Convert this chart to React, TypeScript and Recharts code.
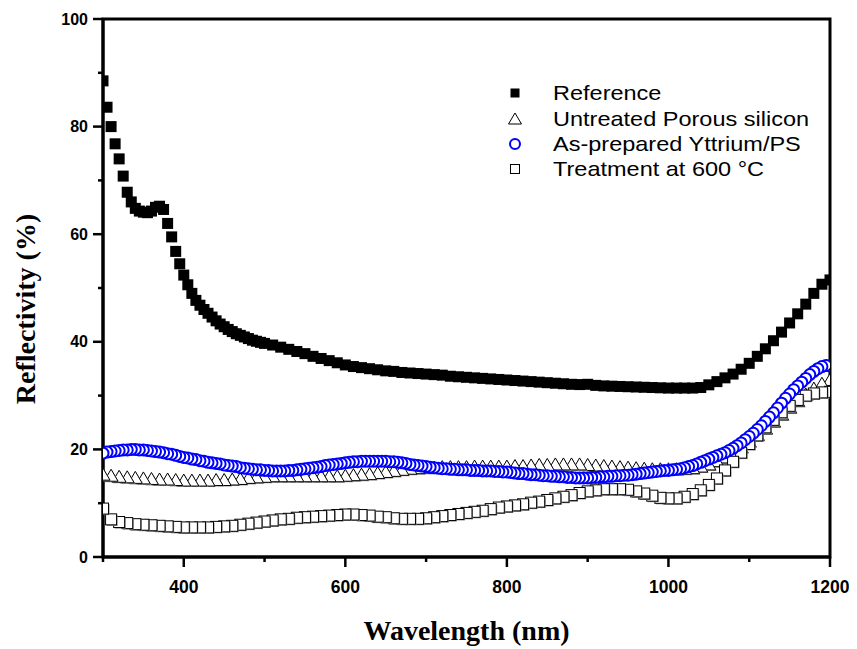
import {
  ScatterChart,
  Scatter,
  XAxis,
  YAxis,
  ReferenceArea,
  Legend,
  Label,
} from "recharts";

// wavelength grids (nm)
const range = (a: number, b: number, s: number) => {
  const out: number[] = [];
  for (let v = a; v <= b + 1e-9; v += s) out.push(v);
  return out;
};
const refWl = [...range(300, 500, 5), ...range(510, 1200, 10)];
const wl10 = range(300, 1200, 10);
const wl5 = range(300, 1200, 5);

const xTicks = [300, 400, 500, 600, 700, 800, 900, 1000, 1100, 1200];
const yTicks = [0, 10, 20, 30, 40, 50, 60, 70, 80, 90, 100];

const seriesNames = [
  "Reference",
  "Untreated Porous silicon",
  "As-prepared Yttrium/PS",
  "Treatment at 600 °C",
];

// Reflectivity (%)
const reference = [
  88.5, 83.6, 80, 76.8, 74, 70.8, 67.8, 66, 64.8, 64.3, 64.1, 64, 64.3, 65, 65.2, 64.6, 62, 59.5, 56.8, 54.5,
  52.4, 50.6, 49, 47.7, 46.8, 46, 45.3, 44.6, 43.9, 43.3, 42.8, 42.3, 41.9, 41.5, 41.2, 40.9, 40.6, 40.3, 40.1, 39.9,
  39.7,
  39.4, 39, 38.6, 38.2, 37.8, 37.3, 36.9, 36.5, 36.1, 35.7,
  35.4, 35.2, 35, 34.8, 34.6, 34.5, 34.3, 34.2, 34.1, 34,
  33.9, 33.8, 33.6, 33.5, 33.4, 33.3, 33.2, 33.1, 33, 32.9,
  32.8, 32.7, 32.6, 32.5, 32.4, 32.3, 32.2, 32.1, 32.05, 32.1,
  31.9, 31.8, 31.75, 31.7, 31.65, 31.6, 31.55, 31.5, 31.45, 31.4,
  31.4, 31.4, 31.4, 31.5, 32, 32.6, 33.3, 34, 34.9, 36,
  37.3, 38.7, 40.2, 41.8, 43.5, 45.2, 47, 49, 50.7, 51.5,
];

const untreated = [
  15.4, 15.2, 15, 14.9, 14.8, 14.7, 14.6, 14.5, 14.5, 14.4,
  14.3, 14.3, 14.3, 14.3, 14.4, 14.4, 14.5, 14.6, 14.8, 14.9,
  15, 15.1, 15.1, 15.1, 15.1, 15.1, 15.1, 15.1, 15.1, 15.1,
  15.2, 15.3, 15.4, 15.5, 15.7, 15.9, 16.1, 16.3, 16.5, 16.6,
  16.7, 16.7, 16.8, 16.8, 16.8, 16.8, 16.9, 16.9, 16.9, 16.9,
  16.9, 17, 17, 17.1, 17.2, 17.2, 17.3, 17.3, 17.3, 17.3,
  17.2, 17.1, 17, 16.9, 16.8, 16.7, 16.6, 16.5, 16.4, 16.4,
  16.4, 16.4, 16.5, 16.6, 16.9, 17.3, 17.9, 18.6, 19.5, 20.5,
  21.6, 22.8, 24, 25.3, 26.6, 27.9, 29.1, 30.3, 31.4, 32.3,
  33,
];

const yttrium = [
  19.3, 19.5, 19.6, 19.7, 19.8, 19.9, 19.9, 20, 20, 19.9,
  19.9, 19.8, 19.7, 19.6, 19.5, 19.4, 19.2, 19.1, 18.9, 18.7,
  18.5, 18.4, 18.2, 18.1, 17.9, 17.8, 17.6, 17.5, 17.4, 17.3,
  17.1, 17, 16.9, 16.8, 16.6, 16.5, 16.4, 16.3, 16.2, 16.2,
  16.1, 16.1, 16, 16, 16, 16, 16.1, 16.1, 16.2, 16.3,
  16.4, 16.5, 16.6, 16.7, 16.8, 17, 17.1, 17.2, 17.3, 17.4,
  17.5, 17.6, 17.7, 17.7, 17.8, 17.8, 17.8, 17.8, 17.8, 17.8,
  17.8, 17.7, 17.7, 17.6, 17.5, 17.4, 17.2, 17.1, 17, 16.9,
  16.8, 16.7, 16.6, 16.5, 16.4, 16.4, 16.3, 16.3, 16.2, 16.2,
  16.2, 16.1, 16.1, 16.1, 16, 16, 16, 15.9, 15.9, 15.8,
  15.8, 15.7, 15.6, 15.5, 15.5, 15.4, 15.3, 15.3, 15.2, 15.1,
  15.1, 15, 15, 14.9, 14.9, 14.8, 14.8, 14.7, 14.7, 14.7,
  14.7, 14.8, 14.8, 14.9, 14.9, 15, 15, 15.1, 15.1, 15.2,
  15.2, 15.3, 15.4, 15.5, 15.6, 15.7, 15.8, 15.9, 16, 16.1,
  16.1, 16.2, 16.3, 16.4, 16.6, 16.8, 17, 17.3, 17.6, 17.9,
  18.2, 18.5, 18.8, 19.1, 19.4, 19.8, 20.2, 20.7, 21.2, 21.8,
  22.4, 23, 23.7, 24.4, 25.2, 26, 26.8, 27.7, 28.6, 29.5,
  30.3, 31.1, 31.8, 32.5, 33.2, 33.9, 34.5, 35, 35.4, 35.6,
  35.5,
];

const treated600 = [
  9, 7, 6.5, 6.3, 6.1, 6, 5.9, 5.8, 5.7, 5.6,
  5.5, 5.5, 5.5, 5.5, 5.6, 5.7, 5.8, 6, 6.2, 6.4,
  6.6, 6.8, 7, 7.1, 7.3, 7.4, 7.5, 7.6, 7.7, 7.8,
  7.9, 7.9, 7.8, 7.7, 7.5, 7.4, 7.2, 7.1, 7.1, 7.1,
  7.2, 7.4, 7.6, 7.8, 8, 8.2, 8.4, 8.6, 8.9, 9.2,
  9.4, 9.6, 9.8, 10.1, 10.3, 10.6, 10.9, 11.2, 11.5, 11.9,
  12.2, 12.4, 12.6, 12.6, 12.6, 12.5, 12.2, 11.8, 11.4, 11,
  10.9, 10.9, 11.2, 11.7, 12.4, 13.4, 14.6, 16.1, 17.7, 19.4,
  21, 22.6, 24.1, 25.5, 26.9, 28.1, 29.2, 30, 30.4, 30.6,
  30.7,
];

// points drawn right to left, like the original plot
const toPoints = (xs: number[], ys: number[]) =>
  xs.map((x, i) => ({ x, y: ys[i] })).reverse();

const refPts = toPoints(refWl, reference);
const untreatedPts = toPoints(wl10, untreated);
const yttriumPts = toPoints(wl5, yttrium);
const treatedPts = toPoints(wl10, treated600);

const sansFont = "'Liberation Sans', Arial, sans-serif";
const serifFont = "'Liberation Serif', 'Times New Roman', serif";

const FilledSquare = (p: any) => (
  <rect x={p.cx - 5.5} y={p.cy - 5.5} width={11} height={11} fill="#000" />
);

const OpenTriangle = (p: any) => {
  const { cx, cy } = p;
  return (
    <g>
      <polygon
        points={`${cx + 1},${cy - 5} ${cx - 6},${cy + 7} ${cx + 8},${cy + 7}`}
        fill="#999"
      />
      <polygon
        points={`${cx},${cy - 6} ${cx - 7},${cy + 6} ${cx + 7},${cy + 6}`}
        fill="#fff"
        stroke="#000"
        strokeWidth={1}
      />
    </g>
  );
};

const BlueCircle = (p: any) => (
  <circle cx={p.cx} cy={p.cy} r={5.5} fill="#fff" stroke="#0000ff" strokeWidth={2} />
);

const OpenSquare = (p: any) => (
  <g>
    <rect x={p.cx - 4.5} y={p.cy - 4.5} width={11} height={11} fill="#888" />
    <rect
      x={p.cx - 5.5}
      y={p.cy - 5.5}
      width={11}
      height={11}
      fill="#fff"
      stroke="#000"
      strokeWidth={1}
    />
  </g>
);

const XTick = (props: any) => {
  const { x, y, payload } = props;
  const major = payload.value % 200 === 0;
  return (
    <g>
      <line x1={x} x2={x} y1={y} y2={y + (major ? 10 : 5)} stroke="#000" strokeWidth={2.5} />
      {major && (
        <text
          x={x}
          y={y + 30}
          textAnchor="middle"
          dominantBaseline="central"
          fontFamily={sansFont}
          fontWeight="bold"
          fontSize={17.5}
          fill="#000"
        >
          {payload.value}
        </text>
      )}
    </g>
  );
};

const YTick = (props: any) => {
  const { x, y, payload } = props;
  const major = payload.value % 20 === 0;
  return (
    <g>
      <line x1={x - (major ? 10 : 5)} x2={x} y1={y} y2={y} stroke="#000" strokeWidth={2.5} />
      {major && (
        <text
          x={x - 15}
          y={y}
          textAnchor="end"
          dominantBaseline="central"
          fontFamily={sansFont}
          fontWeight="bold"
          fontSize={16}
          fill="#000"
        >
          {payload.value}
        </text>
      )}
    </g>
  );
};

const XTitle = (props: any) => {
  const vb = props.viewBox;
  return (
    <text
      x={vb.x + vb.width / 2}
      y={vb.y + 73}
      textAnchor="middle"
      dominantBaseline="central"
      fontFamily={serifFont}
      fontWeight="bold"
      fontSize={28}
      fill="#000"
    >
      Wavelength (nm)
    </text>
  );
};

const YTitle = (props: any) => {
  const vb = props.viewBox;
  return (
    <text
      transform={`translate(${vb.x + 17}, ${vb.y + vb.height / 2 + 21}) rotate(-90)`}
      textAnchor="middle"
      dominantBaseline="central"
      fontFamily={serifFont}
      fontWeight="bold"
      fontSize={28}
      fill="#000"
    >
      Reflectivity (%)
    </text>
  );
};

const legendRows = [18, 44, 69, 94];

const LegendBox = () => (
  <svg width={330} height={115} style={{ overflow: "visible" }}>
    <rect x={10.5} y={legendRows[0] - 4.5} width={9} height={9} fill="#000" />
    <polygon
      points={`15,${legendRows[1] - 6} 8.5,${legendRows[1] + 5} 21.5,${legendRows[1] + 5}`}
      fill="#fff"
      stroke="#000"
      strokeWidth={1}
    />
    <circle cx={15} cy={legendRows[2]} r={5} fill="#fff" stroke="#0000ff" strokeWidth={2} />
    <rect x={10.5} y={legendRows[3] - 4.5} width={9} height={9} fill="#fff" stroke="#000" strokeWidth={1} />
    {seriesNames.map((name, i) => (
      <text
        key={name}
        transform={`translate(53, ${legendRows[i]}) scale(1.12, 1)`}
        dominantBaseline="central"
        fontFamily={sansFont}
        fontSize={21}
        fill="#000"
      >
        {name}
      </text>
    ))}
  </svg>
);

export default function App() {
  return (
    <ScatterChart
      width={849}
      height={641}
      margin={{ top: 11, right: 27, bottom: 32, left: 0 }}
    >
      <XAxis
        type="number"
        dataKey="x"
        domain={[300, 1200]}
        ticks={xTicks}
        interval={0}
        allowDataOverflow
        height={60}
        tickSize={0}
        tickMargin={0}
        tickLine={false}
        axisLine={{ stroke: "#000", strokeWidth: 3 }}
        tick={<XTick />}
      >
        <Label content={XTitle} />
      </XAxis>
      <YAxis
        type="number"
        dataKey="y"
        domain={[0, 100]}
        ticks={yTicks}
        interval={0}
        allowDataOverflow
        width={95}
        tickSize={0}
        tickMargin={0}
        tickLine={false}
        axisLine={{ stroke: "#000", strokeWidth: 3 }}
        tick={<YTick />}
      >
        <Label content={YTitle} />
      </YAxis>
      <Scatter name={seriesNames[0]} data={refPts} shape={FilledSquare} isAnimationActive={false} />
      <Scatter name={seriesNames[1]} data={untreatedPts} shape={OpenTriangle} isAnimationActive={false} />
      <Scatter name={seriesNames[3]} data={treatedPts} shape={OpenSquare} isAnimationActive={false} />
      <Scatter name={seriesNames[2]} data={yttriumPts} shape={BlueCircle} isAnimationActive={false} />
      <ReferenceArea
        x1={300}
        x2={1200}
        y1={0}
        y2={100}
        fill="none"
        stroke="#000"
        strokeWidth={3}
        ifOverflow="visible"
      />
      <Legend
        layout="vertical"
        align="center"
        verticalAlign="middle"
        content={LegendBox}
        wrapperStyle={{ position: "absolute", left: 492, top: 67, width: 330, height: 115 }}
      />
    </ScatterChart>
  );
}
